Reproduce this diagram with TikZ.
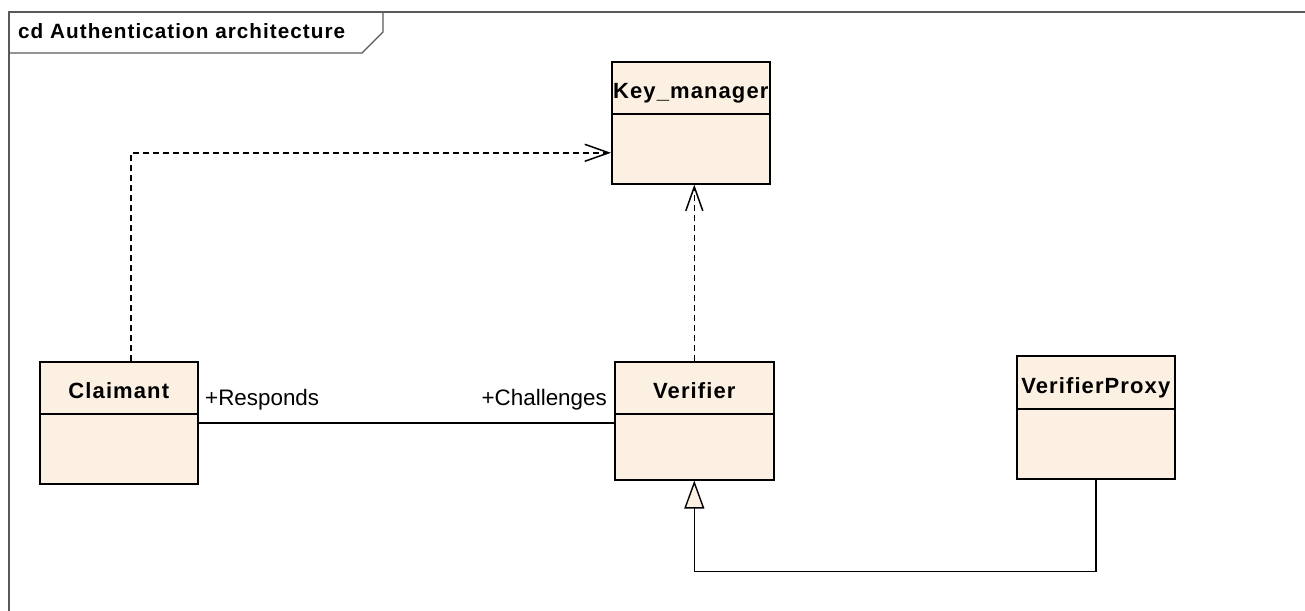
\documentclass[tikz,border=0pt]{standalone}
\usepackage{fontspec}
\setmainfont{Liberation Sans}
\newfontfamily\boldsp[LetterSpace=5]{Liberation Sans}
\usetikzlibrary{arrows.meta,calc}
\definecolor{boxfill}{RGB}{251,240,226}
\definecolor{framegray}{RGB}{90,90,90}
\begin{document}
\begin{tikzpicture}[x=1pt,y=-1pt,
  umlbox/.style={draw=black,line width=1.6pt,fill=boxfill,anchor=north west,inner sep=0pt},
  boxtitle/.style={font=\boldsp\bfseries\fontsize{22}{26}\selectfont,inner sep=0pt,anchor=base},
  role/.style={font=\fontsize{22.4}{26}\selectfont,inner sep=0pt},
  dep/.style={draw=black,line width=1.5pt,dash pattern=on 6pt off 4pt,-{Straight Barb[length=24pt,width=17pt,line width=1.5pt]}},
  assoc/.style={draw=black,line width=1.4pt},
  gen/.style={draw=black,line width=1.4pt,-{Triangle[open,fill=boxfill,length=28pt,width=20pt,line width=1.4pt]}}
]
\useasboundingbox (0,0) rectangle (1305,610);
\fill[white] (0,0) rectangle (1305,610);
% frame
\draw[framegray,line width=1.2pt] (9,615) -- (9,12) -- (1310,12);
\draw[framegray,line width=1.2pt] (9,53) -- (362,53) -- (383,32) -- (383,12);
\node[font=\boldsp\bfseries\fontsize{20.7}{24}\selectfont,anchor=base west,inner sep=0pt] (title) at (18,39) {cd Authentication architecture};
% boxes
\node[umlbox,minimum width=158pt,minimum height=122pt] (km) at (611,61) {};
\draw[line width=1.6pt] ($(km.north west)+(0,53)$) coordinate (kmd) -- (kmd -| km.east);
\node[boxtitle] (kmt) at ($(km.north)+(0,37)$) {Key\_manager};

\node[umlbox,minimum width=158pt,minimum height=122pt] (cl) at (39,361) {};
\draw[line width=1.6pt] ($(cl.north west)+(0,53)$) coordinate (cld) -- (cld -| cl.east);
\node[boxtitle] (clt) at ($(cl.north)+(0,37)$) {Claimant};

\node[umlbox,minimum width=159pt,minimum height=118pt] (ver) at (614,361) {};
\draw[line width=1.6pt] ($(ver.north west)+(0,53)$) coordinate (verd) -- (verd -| ver.east);
\node[boxtitle] (vert) at ($(ver.north)+(0,37)$) {Verifier};

\node[umlbox,minimum width=158pt,minimum height=123pt] (vp) at (1016,355) {};
\draw[line width=1.6pt] ($(vp.north west)+(0,54)$) coordinate (vpd) -- (vpd -| vp.east);
\node[boxtitle] (vpt) at ($(vp.north)+(0,38)$) {VerifierProxy};

% connectors
\draw[dep] ([xshift=12pt]cl.north) |- ([yshift=-30pt]km.west);
\draw[dep] (ver.north) -- (ver.north |- km.south);
\draw[assoc] (cl.east) -- (cl.east -| ver.west);
\node[role,anchor=base west] (resp) at (205,405) {+Responds};
\node[role,anchor=base east] (chal) at (607,405) {+Challenges};
\coordinate (gc) at ([yshift=-91pt]ver.south);
\draw[gen] (vp.south) |- (gc) -- (ver.south);
\end{tikzpicture}
\end{document}
